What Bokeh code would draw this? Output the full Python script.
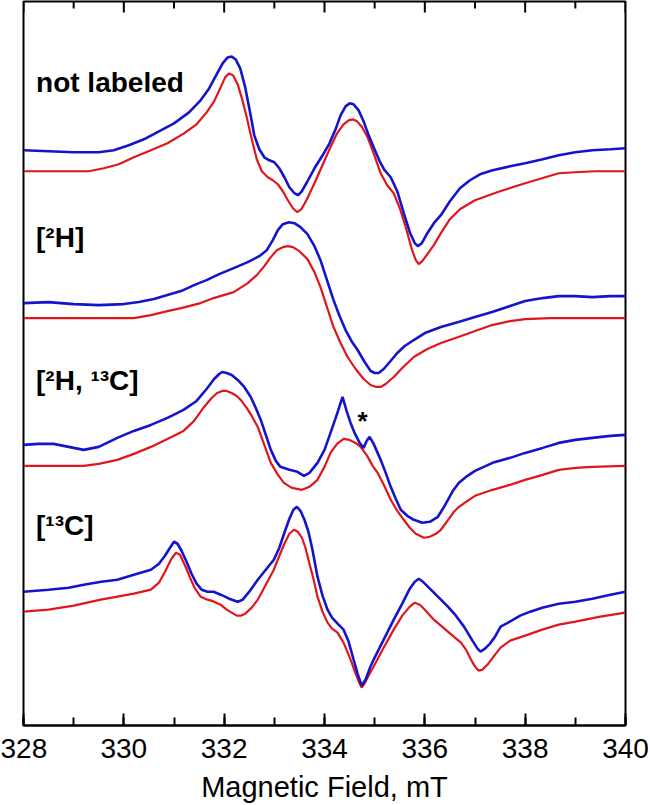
from bokeh.plotting import figure
from bokeh.models import Range1d, SingleIntervalTicker, Label
from bokeh.embed import file_html
from bokeh.resources import INLINE
import numpy as np

# ---- data (field in mT, intensity in arbitrary units relative to each sample's baseline)
labels = ["not labeled", "[²H]", "[²H, ¹³C]", "[¹³C]"]
offsets = [555, 408, 260, 114]
x_title = "Magnetic Field, mT"
major_ticks = [328, 330, 332, 334, 336, 338, 340]
minor_ticks = [329, 331, 333, 335, 337, 339]

field_exp_1 = [328.0, 328.5, 329.0, 329.5, 329.8, 330.1, 330.4, 330.7, 331.0, 331.3, 331.53, 331.7, 331.85, 331.97,
               332.07, 332.15, 332.23, 332.32, 332.42, 332.52, 332.6, 332.7, 332.8, 332.9, 333.0, 333.1, 333.2,
               333.3, 333.4, 333.47, 333.55, 333.65, 333.8, 333.95, 334.1, 334.22, 334.32, 334.42, 334.5, 334.58,
               334.68, 334.78, 334.88, 334.98, 335.1, 335.2, 335.32, 335.45, 335.58, 335.7, 335.8, 335.86, 335.94,
               336.05, 336.18, 336.32, 336.5, 336.7, 336.9, 337.1, 337.35, 337.7, 338.0, 338.35, 338.67, 339.0,
               339.34, 339.7, 340.0]
exp_1 = [21, 20, 19, 19, 21, 26, 32, 40, 48, 59, 71, 83, 97, 108,
         114, 115, 112, 103, 84, 58, 36, 22, 14, 11, 9, 3, -6,
         -16, -22, -24, -20, -11, 3, 15, 28, 42, 56, 65, 68, 67,
         61, 50, 36, 24, 10, 1, -6, -20, -42, -61, -72, -75, -72,
         -62, -52, -44, -30, -17, -9, -3, 1, 5, 8, 12, 16, 19,
         21, 22, 23]
field_sim_1 = [328.0, 329.0, 329.3, 329.6, 329.9, 330.2, 330.54, 330.87, 331.2, 331.45, 331.65, 331.8, 331.92,
               332.02, 332.1, 332.18, 332.27, 332.36, 332.45, 332.55, 332.65, 332.75, 332.87, 332.97, 333.07,
               333.17, 333.27, 333.37, 333.46, 333.54, 333.65, 333.8, 333.95, 334.1, 334.25, 334.38, 334.48,
               334.56, 334.65, 334.75, 334.86, 334.98, 335.12, 335.25, 335.38, 335.5, 335.62, 335.74, 335.82,
               335.88, 335.95, 336.05, 336.18, 336.32, 336.5, 336.7, 337.0, 337.5, 338.0, 338.4, 338.67, 339.0,
               339.4, 340.0]
sim_1 = [0, 0, 0, 3, 7, 14, 21, 28, 38, 47, 59, 70, 83,
         94, 98, 96, 87, 72, 54, 32, 12, 0, -6, -9, -13,
         -20, -29, -37, -41, -38, -28, -12, 5, 22, 38, 47, 51,
         52, 50, 44, 34, 18, -2, -14, -22, -37, -56, -78, -89,
         -93, -90, -83, -74, -62, -48, -38, -29, -20, -12, -6, -2, -1,
         0, 0]

field_exp_2 = [328.0, 328.5, 329.0, 329.5, 330.0, 330.3, 330.6, 330.87, 331.14, 331.4, 331.65, 331.9, 332.19,
               332.47, 332.7, 332.85, 332.97, 333.07, 333.17, 333.29, 333.4, 333.52, 333.66, 333.8, 333.92,
               334.05, 334.18, 334.3, 334.42, 334.55, 334.66, 334.8, 334.92, 335.0, 335.08, 335.18, 335.3,
               335.45, 335.6, 335.78, 336.0, 336.32, 336.67, 337.0, 337.34, 337.7, 338.0, 338.35, 338.67,
               339.0, 339.34, 339.7, 340.0]
exp_2 = [15, 16, 14, 13, 14, 16, 19, 23, 27, 33, 38, 44, 50,
         56, 62, 68, 78, 88, 94, 96, 95, 91, 84, 72, 58,
         38, 18, 2, -12, -24, -32, -44, -53, -55, -55, -51, -44,
         -35, -28, -22, -15, -9, -4, 1, 6, 12, 17, 20, 22,
         22, 21, 22, 22]
field_sim_2 = [328.0, 329.5, 330.2, 330.54, 330.87, 331.14, 331.53, 331.79, 332.19, 332.47, 332.65, 332.8, 332.93,
               333.05, 333.17, 333.27, 333.37, 333.5, 333.66, 333.8, 333.92, 334.05, 334.18, 334.32, 334.46,
               334.62, 334.78, 334.92, 335.03, 335.12, 335.22, 335.38, 335.55, 335.78, 336.05, 336.32, 336.67,
               337.0, 337.34, 337.7, 338.0, 338.5, 340.0]
sim_2 = [0, 0, 0, 3, 7, 10, 15, 20, 26, 35, 43, 52, 61,
         68, 71, 72, 71, 67, 59, 46, 31, 11, -9, -25, -39,
         -51, -61, -67, -69, -69, -66, -59, -50, -39, -31, -25, -19,
         -13, -7, -3, -1, 0, 0]

field_exp_3 = [328.0, 328.3, 328.6, 328.9, 329.2, 329.5, 329.87, 330.2, 330.54, 330.87, 331.19, 331.45, 331.65,
               331.8, 331.9, 331.96, 332.05, 332.15, 332.27, 332.4, 332.53, 332.63, 332.73, 332.83, 332.93,
               333.03, 333.12, 333.3, 333.46, 333.59, 333.7, 333.86, 334.0, 334.12, 334.25, 334.36, 334.44,
               334.52, 334.6, 334.7, 334.78, 334.84, 334.9, 334.98, 335.12, 335.22, 335.32, 335.42, 335.52,
               335.65, 335.78, 335.95, 336.1, 336.26, 336.36, 336.46, 336.56, 336.68, 336.85, 337.0, 337.35,
               337.7, 338.0, 338.35, 338.67, 339.0, 339.34, 339.7, 340.0]
exp_3 = [21, 22, 22, 19, 16, 19, 28, 35, 41, 48, 56, 65, 77,
         87, 92, 94, 93, 91, 86, 79, 69, 58, 46, 31, 16,
         5, -1, -4, -6, -10, -7, 3, 16, 33, 52, 69, 55,
         43, 33, 23, 18, 25, 29, 22, 6, -7, -21, -33, -44,
         -50, -54, -57, -56, -51, -43, -34, -25, -17, -10, -5, 3,
         8, 13, 18, 23, 26, 28, 30, 31]
field_sim_3 = [328.0, 328.6, 329.2, 329.5, 329.87, 330.2, 330.54, 330.87, 331.19, 331.4, 331.6, 331.75, 331.86,
               331.96, 332.05, 332.15, 332.25, 332.33, 332.45, 332.56, 332.67, 332.8, 332.93, 333.06, 333.19,
               333.35, 333.55, 333.7, 333.86, 334.0, 334.12, 334.25, 334.38, 334.5, 334.62, 334.72, 334.85,
               334.96, 335.06, 335.2, 335.32, 335.45, 335.58, 335.7, 335.82, 335.98, 336.1, 336.22, 336.32,
               336.45, 336.58, 336.68, 336.85, 337.0, 337.35, 337.7, 338.0, 338.35, 338.67, 339.0, 339.34, 340.0]
sim_3 = [0, 0, 0, 2, 6, 12, 19, 27, 35, 45, 59, 68, 73,
         75, 75, 73, 70, 66, 58, 49, 39, 21, 3, -8, -17,
         -22, -24, -21, -14, -1, 13, 22, 27, 26, 23, 19, 10,
         0, -7, -21, -34, -45, -54, -62, -68, -72, -71, -68, -64,
         -55, -46, -41, -35, -30, -24, -19, -14, -9, -4, -2, -1, 0]

field_exp_4 = [328.0, 328.5, 328.9, 329.2, 329.55, 329.87, 330.2, 330.54, 330.7, 330.82, 330.92, 331.0, 331.07,
               331.15, 331.25, 331.35, 331.45, 331.55, 331.67, 331.79, 331.93, 332.1, 332.27, 332.37, 332.5,
               332.67, 332.83, 332.99, 333.1, 333.2, 333.3, 333.38, 333.45, 333.52, 333.6, 333.68, 333.76,
               333.86, 333.96, 334.06, 334.15, 334.26, 334.38, 334.48, 334.58, 334.66, 334.74, 334.82, 334.9,
               334.98, 335.15, 335.38, 335.55, 335.7, 335.8, 335.88, 335.96, 336.08, 336.18, 336.32, 336.46,
               336.62, 336.78, 336.95, 337.05, 337.11, 337.2, 337.3, 337.4, 337.51, 337.66, 337.9, 338.1,
               338.34, 338.67, 339.0, 339.34, 339.7, 340.0]
exp_4 = [20, 22, 24, 27, 30, 32, 37, 42, 48, 56, 64, 70, 68,
         61, 50, 38, 28, 22, 20, 20, 17, 13, 10, 12, 20,
         32, 42, 52, 64, 79, 93, 102, 105, 101, 92, 80, 62,
         35, 16, 2, -6, -12, -18, -30, -48, -62, -74, -68, -57,
         -48, -31, -8, 8, 23, 30, 33, 30, 24, 19, 12, 5,
         -4, -15, -29, -37, -40, -37, -32, -25, -15, -11, -4, 0,
         4, 8, 10, 13, 17, 20]
field_sim_4 = [328.0, 328.5, 329.0, 329.54, 330.2, 330.54, 330.7, 330.82, 330.95, 331.04, 331.12, 331.23, 331.32,
               331.42, 331.53, 331.67, 331.8, 331.93, 332.05, 332.15, 332.25, 332.33, 332.42, 332.55, 332.67,
               332.83, 332.99, 333.1, 333.2, 333.3, 333.39, 333.47, 333.55, 333.62, 333.7, 333.78, 333.86,
               333.96, 334.06, 334.15, 334.26, 334.38, 334.52, 334.62, 334.7, 334.74, 334.8, 334.88, 334.98,
               335.18, 335.38, 335.55, 335.7, 335.8, 335.9, 336.0, 336.18, 336.32, 336.46, 336.6, 336.72,
               336.82, 336.92, 337.0, 337.07, 337.15, 337.25, 337.37, 337.51, 337.7, 338.0, 338.34, 338.67,
               339.0, 339.5, 340.0]
sim_4 = [0, 2, 6, 12, 18, 22, 29, 40, 53, 59, 57, 45, 34,
         23, 15, 12, 10, 7, 2, -1, -4, -4, -2, 4, 12,
         27, 42, 56, 68, 78, 82, 80, 74, 64, 48, 33, 15,
         0, -11, -17, -21, -31, -48, -62, -72, -76, -72, -64, -55,
         -36, -18, -4, 5, 9, 7, 2, -8, -14, -20, -26, -31,
         -38, -48, -55, -59, -58, -53, -45, -36, -29, -24, -18, -13,
         -10, -5, -1]

fields_exp = [field_exp_1, field_exp_2, field_exp_3, field_exp_4]
exps = [exp_1, exp_2, exp_3, exp_4]
fields_sim = [field_sim_1, field_sim_2, field_sim_3, field_sim_4]
sims = [sim_1, sim_2, sim_3, sim_4]

BLUE = "#1414CC"
RED = "#E0161C"
FONT = "Liberation Sans"
Y_TOP = 725

p = figure(width=650, height=805,
           x_range=Range1d(328, 340), y_range=Range1d(0, Y_TOP),
           output_backend="svg", toolbar_location=None,
           y_axis_location=None, x_axis_location="below",
           min_border_left=23, min_border_right=25, min_border_top=1, min_border_bottom=79)
p.xgrid.visible = False
p.ygrid.visible = False
p.outline_line_color = "black"
p.outline_line_width = 2
p.outline_line_alpha = 1.0
p.background_fill_color = "white"
p.border_fill_color = "white"

ax = p.xaxis[0]
ax.ticker = SingleIntervalTicker(interval=2, num_minor_ticks=2)
ax.axis_label = x_title
ax.axis_label_text_font = FONT
ax.axis_label_text_font_size = "29px"
ax.axis_label_text_font_style = "normal"
ax.axis_label_text_color = "black"
ax.axis_label_text_line_height = 1.0
ax.axis_label_standoff = 10
ax.major_label_text_font = FONT
ax.major_label_text_font_size = "28px"
ax.major_label_text_color = "black"
ax.major_label_text_line_height = 1.0
ax.major_label_standoff = 13
ax.axis_line_width = 2
ax.major_tick_line_width = 2
ax.minor_tick_line_width = 2
ax.major_tick_in = 12
ax.major_tick_out = 0
ax.minor_tick_in = 8
ax.minor_tick_out = 0

# inward ticks along the top edge of the frame
p.segment(x0=major_ticks, y0=[Y_TOP] * len(major_ticks), x1=major_ticks,
          y1=[Y_TOP - 11] * len(major_ticks), line_color="black", line_width=2)
p.segment(x0=minor_ticks, y0=[Y_TOP] * len(minor_ticks), x1=minor_ticks,
          y1=[Y_TOP - 7] * len(minor_ticks), line_color="black", line_width=2)

for fe, ve, fs, vs, off in zip(fields_exp, exps, fields_sim, sims, offsets):
    p.line(fs, np.array(vs) + off, line_color=RED, line_width=2.2)
    p.line(fe, np.array(ve) + off, line_color=BLUE, line_width=2.6)

label_y = [644, 489, 345, 200]
for txt, ly in zip(labels, label_y):
    p.add_layout(Label(x=328.25, y=ly, text=txt, text_font=FONT, text_font_style="bold",
                       text_font_size="28px", text_color="black",
                       text_align="left", text_baseline="alphabetic"))

p.add_layout(Label(x=334.76, y=305, text="*", text_font=FONT, text_font_style="bold",
                   text_font_size="26px", text_color="black",
                   text_align="center", text_baseline="alphabetic"))

open("out.html", "w").write(file_html(p, INLINE))
